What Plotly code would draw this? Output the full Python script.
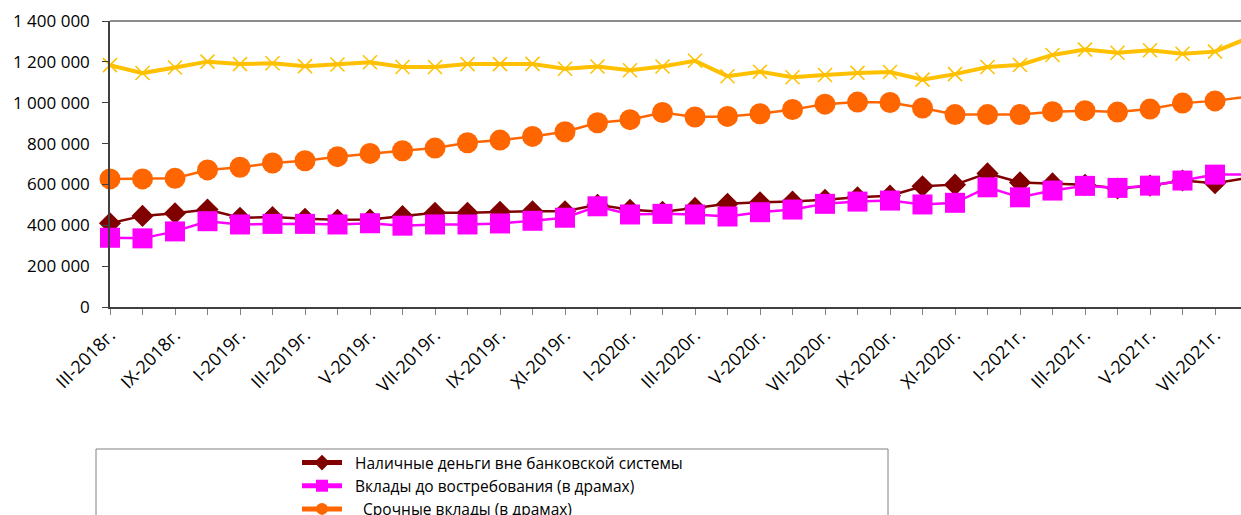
import plotly.graph_objects as go

categories = [
    "III-2018г.", "VI-2018г.", "IX-2018г.", "XII-2018г.",
    "I-2019г.", "II-2019г.", "III-2019г.", "IV-2019г.", "V-2019г.", "VI-2019г.",
    "VII-2019г.", "VIII-2019г.", "IX-2019г.", "X-2019г.", "XI-2019г.", "XII-2019г.",
    "I-2020г.", "II-2020г.", "III-2020г.", "IV-2020г.", "V-2020г.", "VI-2020г.",
    "VII-2020г.", "VIII-2020г.", "IX-2020г.", "X-2020г.", "XI-2020г.", "XII-2020г.",
    "I-2021г.", "II-2021г.", "III-2021г.", "IV-2021г.", "V-2021г.", "VI-2021г.",
    "VII-2021г.", "VIII-2021г.",
]

cash = [410000, 446000, 459000, 477000, 437000, 440000, 432000, 427000, 428000, 445000,
        461000, 461000, 466000, 469000, 469000, 500000, 476000, 466000, 485000, 505000,
        513000, 516000, 525000, 537000, 545000, 591000, 599000, 654000, 610000, 605000,
        598000, 580000, 594000, 619000, 606000, 632000]

demand = [339000, 336000, 370000, 420000, 404000, 407000, 407000, 404000, 410000, 398000,
          404000, 404000, 409000, 422000, 437000, 493000, 453000, 456000, 453000, 443000,
          464000, 477000, 505000, 516000, 521000, 502000, 510000, 586000, 537000, 570000,
          593000, 583000, 594000, 619000, 648000, 648000]

term = [627000, 627000, 630000, 671000, 684000, 705000, 716000, 736000, 752000, 765000,
        778000, 804000, 817000, 835000, 858000, 902000, 917000, 952000, 930000, 933000,
        946000, 967000, 993000, 1003000, 1001000, 974000, 942000, 942000, 942000, 956000,
        961000, 954000, 969000, 998000, 1009000, 1029000]

fx = [1184000, 1145000, 1172000, 1201000, 1189000, 1193000, 1179000, 1187000, 1198000, 1175000,
      1175000, 1189000, 1189000, 1190000, 1166000, 1177000, 1159000, 1177000, 1205000, 1130000,
      1152000, 1125000, 1136000, 1146000, 1150000, 1113000, 1140000, 1175000, 1185000, 1234000,
      1260000, 1245000, 1257000, 1240000, 1250000, 1315000]

names = [
    "\u00a0\u00a0Наличные деньги вне банковской системы",
    "\u00a0\u00a0Вклады до востребования (в драмах)",
    "\u00a0\u00a0\u00a0\u00a0Срочные вклады (в драмах)",
    "\u00a0\u00a0Вклады в иностранной валюте",
]

tick_text = [c if i % 2 == 0 else "" for i, c in enumerate(categories)]

FONT = "Open Sans"

fig = go.Figure()
fig.add_trace(go.Scatter(
    x=categories, y=cash, name=names[0], mode="lines+markers", legendgroup="a",
    line=dict(color="#800000", width=2.5),
    marker=dict(symbol="diamond", size=17, color="#800000"), cliponaxis=False))
fig.add_trace(go.Scatter(
    x=categories, y=demand, name=names[1], mode="lines+markers", legendgroup="b",
    line=dict(color="#FF00FF", width=2.5),
    marker=dict(symbol="square", size=20, color="#FF00FF"), cliponaxis=False))
fig.add_trace(go.Scatter(
    x=categories, y=term, name=names[2], mode="lines+markers", legendgroup="c",
    line=dict(color="#FF6600", width=2.5),
    marker=dict(symbol="circle", size=21, color="#FF6600"), cliponaxis=False))
fig.add_trace(go.Scatter(
    x=categories, y=fx, name=names[3], mode="lines+markers", legendgroup="d",
    line=dict(color="#FFC000", width=4),
    marker=dict(symbol="x-thin", size=14, line=dict(color="#FFC000", width=1.5)),
    cliponaxis=False))

L, T, B = 110, 21, 208
W, H = 1241, 515
plot_w = W - L
plot_h = H - T - B

def px_x(p):
    return (p - L) / plot_w

def px_y(p):
    return (H - B - p) / plot_h

fig.update_layout(
    width=W, height=H,
    margin=dict(l=L, r=0, t=T, b=B, autoexpand=False),
    paper_bgcolor="white", plot_bgcolor="white",
    separators=", ",
    font=dict(family=FONT, size=16, color="#000000"),
    showlegend=True,
    legend=dict(
        x=px_x(297), xanchor="left", y=px_y(446), yanchor="top",
        font=dict(family=FONT, size=15.5, color="#000000"),
        itemwidth=40, itemsizing="constant", tracegroupgap=0,
        bgcolor="rgba(0,0,0,0)", borderwidth=0,
    ),
    xaxis=dict(
        type="category", range=[0, plot_w / 32.5],
        tickmode="array", tickvals=categories, ticktext=tick_text,
        tickangle=-45, ticks="outside", ticklen=6, tickcolor="#808080",
        ticklabelstandoff=3,
        showline=True, linecolor="#404040", linewidth=1.5,
        showgrid=False, zeroline=False,
        tickfont=dict(family=FONT, size=18),
    ),
    yaxis=dict(
        range=[0, 1400000], dtick=200000, tickformat=",d",
        ticks="outside", ticklen=6, tickcolor="#404040",
        ticklabelstandoff=9,
        showline=True, linecolor="#404040", linewidth=1.5,
        showgrid=False, zeroline=False,
        tickfont=dict(family=FONT, size=17),
    ),
    shapes=[
        dict(type="line", xref="paper", yref="paper", x0=0, x1=1, y0=1, y1=1,
             line=dict(color="#8c8c8c", width=2)),
        dict(type="rect", xref="paper", yref="paper",
             x0=px_x(96), x1=px_x(888), y0=px_y(449), y1=px_y(600),
             line=dict(color="#808080", width=1)),
    ],
)

fig.write_html("out.html", config={"displayModeBar": False},
               post_script="document.body.style.margin='0';")
